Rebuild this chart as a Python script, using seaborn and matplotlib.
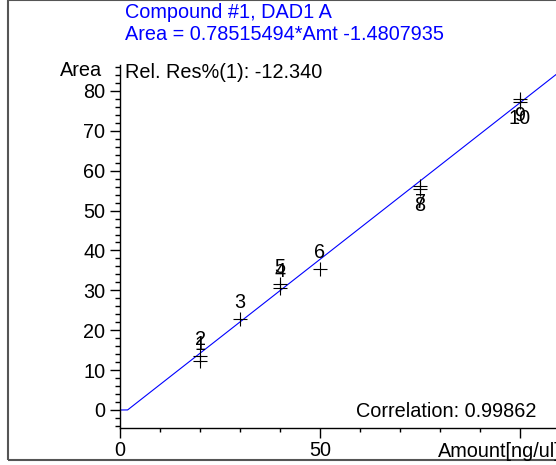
import numpy as np
import pandas as pd
import matplotlib
matplotlib.use("Agg")
import matplotlib.pyplot as plt
from matplotlib.ticker import MultipleLocator, FixedLocator
from matplotlib.patches import Rectangle
import seaborn as sns

# ---- data ----
levels = ["1", "2", "3", "4", "5", "6", "7", "8", "9", "10"]
amount = [20, 20, 30, 40, 40, 50, 75, 75, 100, 100]
area = [12.3, 13.5, 22.8, 30.7, 31.7, 35.4, 56.25, 55.4, 77.9, 77.1]
label_side = ["above", "above", "above", "above", "above", "above",
              "below", "below", "below", "below"]
slope = 0.78515494
intercept = -1.4807935
title_lines = ["Compound #1, DAD1 A", "Area = 0.78515494*Amt -1.4807935"]
rel_res_text = "Rel. Res%(1): -12.340"
corr_text = "Correlation: 0.99862"
x_label = "Amount[ng/ul]"
y_label = "Area"
x_tick_vals = [0, 50, 100]
x_tick_labels = ["0", "50", ""]
x_minor_vals = [10, 20, 30, 40, 60, 70, 80, 90]
y_tick_vals = [0, 10, 20, 30, 40, 50, 60, 70, 80]

sns.set_style("ticks")
plt.rcParams["font.family"] = ["Liberation Sans", "DejaVu Sans"]

FS = 14.3
W, H = 556, 465
fig = plt.figure(figsize=(W / 100, H / 100), dpi=100)
ax = fig.add_axes([120 / W, (H - 427.5) / H, (W - 120) / W, (427.5 - 65) / H])

df = pd.DataFrame({"Amount": amount, "Area": area, "Level": levels})

# calibration line
xl = np.linspace(0, 112, 2001)
yl = np.maximum(0, slope * xl + intercept)
sns.lineplot(x=xl, y=yl, ax=ax, color="#0000ff", linewidth=0.8, zorder=2)

sns.scatterplot(data=df, x="Amount", y="Area", ax=ax, marker="+", s=88,
                color="black", linewidth=0.8, zorder=3)

for lv, xv, yv, side in zip(levels, amount, area, label_side):
    if side == "above":
        ax.annotate(lv, (xv, yv), xytext=(0, 5), textcoords="offset points",
                    ha="center", va="bottom", fontsize=FS, color="black")
    else:
        ax.annotate(lv, (xv, yv), xytext=(0, -5), textcoords="offset points",
                    ha="center", va="top", fontsize=FS, color="black")

ax.set_xlim(0, 109)
ax.set_ylim(-4.39, 86.5)
ax.set_xlabel("")
ax.set_ylabel("")

for s in ["top", "right"]:
    ax.spines[s].set_visible(False)
for s in ["left", "bottom"]:
    ax.spines[s].set_color("black")
    ax.spines[s].set_linewidth(1.0)

ax.yaxis.set_major_locator(FixedLocator(y_tick_vals))
ax.yaxis.set_minor_locator(MultipleLocator(2))
ax.set_yticklabels([str(v) for v in y_tick_vals])
ax.xaxis.set_major_locator(FixedLocator(x_tick_vals))
ax.xaxis.set_minor_locator(FixedLocator(x_minor_vals))
ax.set_xticklabels(x_tick_labels)
ax.tick_params(axis="y", which="major", direction="out", length=7.5, width=1,
               labelsize=FS, colors="black", pad=3)
ax.tick_params(axis="y", which="minor", direction="out", length=3.6, width=1, colors="black")
ax.tick_params(axis="x", which="major", direction="out", length=7, width=1,
               labelsize=FS, colors="black", pad=3)
ax.tick_params(axis="x", which="minor", direction="out", length=3, width=1, colors="black")

# texts
fig.text(125 / W, 1 - 13 / H, title_lines[0], color="#0000ff", fontsize=FS,
         ha="left", va="center")
fig.text(125 / W, 1 - 35 / H, title_lines[1], color="#0000ff", fontsize=FS,
         ha="left", va="center")
fig.text(102 / W, 1 - 70 / H, y_label, color="black", fontsize=FS, ha="right", va="center")
fig.text(125 / W, 1 - 73 / H, rel_res_text, color="black", fontsize=FS, ha="left", va="center")
fig.text(536 / W, 1 - 411 / H, corr_text, color="black", fontsize=FS, ha="right", va="center")
fig.text(438 / W, 1 - 451 / H, x_label, color="black", fontsize=FS, ha="left", va="center")

# outer frame
fig.patches.append(Rectangle((8 / W, 5 / H), 1.2, 1 - 5 / H - 0.5 / H,
                             transform=fig.transFigure, fill=False,
                             edgecolor="#555555", linewidth=1.5, zorder=0))

fig.savefig("out.png", dpi=100)
